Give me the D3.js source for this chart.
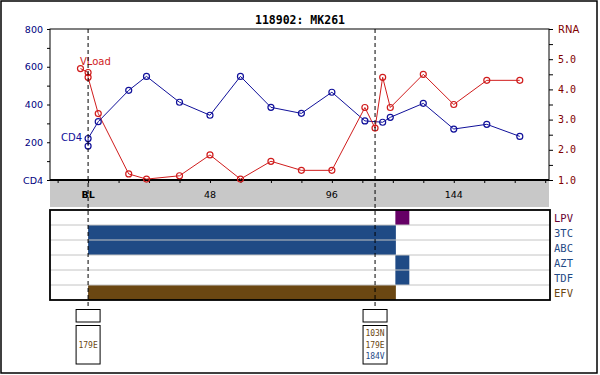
<!DOCTYPE html>
<html>
<head>
<meta charset="utf-8">
<script src="https://cdnjs.cloudflare.com/ajax/libs/d3/7.8.5/d3.min.js"></script>
<style>
  body { margin: 0; background: white; }
  svg { display: block; }
</style>
</head>
<body>
<script>
// title
var chartTitle = "118902: MK261";

// CD4 counts (weeks since baseline)
var cd4Weeks  = [0, 0, 4, 16, 23, 36, 48, 60, 72, 84, 96, 109, 116, 119, 132, 144, 157, 170];
var cd4Values = [180, 220, 309, 475, 549, 412, 343, 549, 385, 353, 465, 313, 306, 332, 406, 270, 295, 231];

// viral load, log10 copies
var vlWeeks  = [-3, 0, 0, 4, 16, 23, 36, 48, 60, 72, 84, 96, 109, 113, 116, 119, 132, 144, 157, 170];
var vlValues = [4.69, 4.56, 4.40, 3.20, 1.20, 1.03, 1.14, 1.83, 1.03, 1.62, 1.32, 1.32, 3.40, 2.72, 4.40, 3.40, 4.50, 3.50, 4.30, 4.30];

// axes
var weekTicks = [-12, 0, 12, 24, 36, 48, 60, 72, 84, 96, 108, 120, 132, 144, 156, 168, 180];
var weekLabels = [0, 48, 96, 144];
var cd4Ticks = [0, 100, 200, 300, 400, 500, 600, 700, 800];
var cd4Labels = [0, 200, 400, 600, 800];
var rnaTicks = [1, 1.5, 2, 2.5, 3, 3.5, 4, 4.5, 5, 5.5, 6];
var rnaLabels = [1, 2, 3, 4, 5, 6];

// drug regimens
var drugNames  = ["LPV", "3TC", "ABC", "AZT", "TDF", "EFV"];
var drugStart  = [121, 0, 0, 121, 121, 0];
var drugEnd    = [126.5, 121.2, 121.2, 126.5, 126.5, 121.2];
var drugColors = ["#660066", "#1f4a85", "#1f4a85", "#1f4a85", "#1f4a85", "#6b4712"];
var drugLabelColors = ["#660033", "#1f4a85", "#1f4a85", "#1f4a85", "#1f4a85", "#6b4712"];

// genotypes
var genoWeeks = [0, 113];
var genoMutations = [["179E"], ["103N", "179E", "184V"]];
var genoColors = [["#6b4712"], ["#6b4712", "#6b4712", "#1f4a85"]];

var W = 600, H = 375;
var plot = {left: 50, right: 549, top: 29, bottom: 180};

var svg = d3.select("body").append("svg")
    .attr("width", W).attr("height", H);

// outer frame
svg.append("rect")
    .attr("x", 1).attr("y", 1).attr("width", 596).attr("height", 372)
    .attr("fill", "white").attr("stroke", "black").attr("stroke-width", 1.5);

// scales
var x = d3.scaleLinear().domain([-15, 181.5]).range([plot.left, plot.right]);
var yCd4 = d3.scaleLinear().domain([0, 800]).range([plot.bottom, plot.top]);
var yRna = d3.scaleLinear().domain([1, 6]).range([plot.bottom, plot.top]);

// title
svg.append("text")
    .attr("x", 300).attr("y", 24)
    .attr("text-anchor", "middle")
    .attr("font-family", "DejaVu Sans Mono").attr("font-weight", "bold").attr("font-size", "11.5px")
    .text(chartTitle);

// gray band under plot
svg.append("rect")
    .attr("x", plot.left).attr("y", plot.bottom)
    .attr("width", plot.right - plot.left).attr("height", 27)
    .attr("fill", "#c8c8c8");

// plot frame
svg.append("rect")
    .attr("x", plot.left).attr("y", plot.top)
    .attr("width", plot.right - plot.left).attr("height", plot.bottom - plot.top)
    .attr("fill", "white").attr("stroke", "black").attr("stroke-width", 1);

// left axis
var leftAxis = svg.append("g")
    .attr("transform", "translate(" + plot.left + ",0)")
    .call(d3.axisLeft(yCd4).tickValues(cd4Ticks).tickSize(3).tickFormat(""));
leftAxis.select(".domain").remove();
svg.selectAll(".cd4lab")
    .data(cd4Labels).enter().append("text")
    .attr("class", "cd4lab")
    .attr("x", 43).attr("y", function(d) { return yCd4(d) + 3.5; })
    .attr("text-anchor", "end")
    .attr("font-family", "DejaVu Sans").attr("font-size", "9.5px").attr("fill", "#000080")
    .text(function(d) { return d == 0 ? "CD4" : d; });

// right axis
var rightAxis = svg.append("g")
    .attr("transform", "translate(" + plot.right + ",0)")
    .call(d3.axisRight(yRna).tickValues(rnaTicks).tickSize(4).tickFormat(""));
rightAxis.select(".domain").remove();
svg.selectAll(".rnalab")
    .data(rnaLabels).enter().append("text")
    .attr("class", "rnalab")
    .attr("x", 558).attr("y", function(d) { return yRna(d) + 3.5; })
    .attr("font-family", function(d) { return d == 6 ? "DejaVu Sans" : "DejaVu Sans Mono"; })
    .attr("font-size", "10px")
    .attr("fill", "#800000")
    .text(function(d) { return d == 6 ? "RNA" : d.toFixed(1); });

// bottom ticks
var bottomAxis = svg.append("g")
    .attr("transform", "translate(0," + plot.bottom + ")")
    .call(d3.axisBottom(x).tickValues(weekTicks).tickSize(3).tickFormat(""));
bottomAxis.select(".domain").remove();
svg.append("line")
    .attr("x1", plot.left).attr("x2", plot.right)
    .attr("y1", plot.bottom).attr("y2", plot.bottom)
    .attr("stroke", "black").attr("stroke-width", 2);

svg.selectAll(".weeklab")
    .data(weekLabels).enter().append("text")
    .attr("class", "weeklab")
    .attr("x", function(d) { return x(d); }).attr("y", 198)
    .attr("text-anchor", "middle")
    .attr("font-family", "DejaVu Sans").attr("font-size", "9.5px")
    .attr("font-weight", function(d) { return d == 0 ? "bold" : "normal"; })
    .text(function(d) { return d == 0 ? "BL" : d; });

// lines
var cd4Data = cd4Weeks.map(function(w, i) { return [w, cd4Values[i]]; });
var vlData = vlWeeks.map(function(w, i) { return [w, vlValues[i]]; });

var cd4Line = d3.line().x(function(d) { return x(d[0]); }).y(function(d) { return yCd4(d[1]); });
var vlLine = d3.line().x(function(d) { return x(d[0]); }).y(function(d) { return yRna(d[1]); });

svg.append("path").datum(cd4Data)
    .attr("d", cd4Line).attr("fill", "none").attr("stroke", "#10109a").attr("stroke-width", 1);
svg.append("path").datum(vlData)
    .attr("d", vlLine).attr("fill", "none").attr("stroke", "#d01c1c").attr("stroke-width", 1);

svg.selectAll(".cd4pt")
    .data(cd4Data).enter().append("circle")
    .attr("class", "cd4pt")
    .attr("cx", function(d) { return x(d[0]); })
    .attr("cy", function(d) { return yCd4(d[1]); })
    .attr("r", 3).attr("fill", "none").attr("stroke", "#10109a").attr("stroke-width", 1.2);
svg.selectAll(".vlpt")
    .data(vlData).enter().append("circle")
    .attr("class", "vlpt")
    .attr("cx", function(d) { return x(d[0]); })
    .attr("cy", function(d) { return yRna(d[1]); })
    .attr("r", 3).attr("fill", "none").attr("stroke", "#d01c1c").attr("stroke-width", 1.2);

// series labels
svg.append("text")
    .attr("x", 80).attr("y", 65)
    .attr("font-family", "DejaVu Sans").attr("font-size", "10px").attr("fill", "#d01c1c")
    .text("VLoad");
svg.append("text")
    .attr("x", 82).attr("y", 141)
    .attr("text-anchor", "end")
    .attr("font-family", "DejaVu Sans").attr("font-size", "10px").attr("fill", "#10109a")
    .text("CD4");

// drug panel
var panel = {top: 210, rowH: 15};
var drugs = drugNames.map(function(n, i) {
    return {name: n, start: drugStart[i], end: drugEnd[i], color: drugColors[i], label: drugLabelColors[i], row: i};
});

svg.append("rect")
    .attr("x", plot.left).attr("y", panel.top)
    .attr("width", plot.right - plot.left + 1).attr("height", panel.rowH * 6)
    .attr("fill", "white");

svg.selectAll(".drugbar")
    .data(drugs).enter().append("rect")
    .attr("class", "drugbar")
    .attr("x", function(d) { return x(d.start); })
    .attr("y", function(d) { return panel.top + d.row * panel.rowH; })
    .attr("width", function(d) { return x(d.end) - x(d.start); })
    .attr("height", panel.rowH)
    .attr("fill", function(d) { return d.color; });

svg.selectAll(".rowline")
    .data(d3.range(1, 6)).enter().append("line")
    .attr("class", "rowline")
    .attr("x1", plot.left).attr("x2", plot.right + 1)
    .attr("y1", function(d) { return panel.top + d * panel.rowH; })
    .attr("y2", function(d) { return panel.top + d * panel.rowH; })
    .attr("stroke", "#c4c4c4").attr("stroke-width", 1);

svg.append("rect")
    .attr("x", plot.left).attr("y", panel.top)
    .attr("width", plot.right - plot.left + 1).attr("height", panel.rowH * 6)
    .attr("fill", "none").attr("stroke", "black").attr("stroke-width", 1.8);

svg.selectAll(".druglab")
    .data(drugs).enter().append("text")
    .attr("class", "druglab")
    .attr("x", 554)
    .attr("y", function(d) { return panel.top + d.row * panel.rowH + 11.5; })
    .attr("font-family", "DejaVu Sans Mono").attr("font-size", "10.5px")
    .attr("fill", function(d) { return d.label; })
    .text(function(d) { return d.name; });

// genotype markers: dashed lines and boxes
svg.selectAll(".genoline")
    .data(genoWeeks).enter().append("line")
    .attr("class", "genoline")
    .attr("x1", function(d) { return x(d); }).attr("x2", function(d) { return x(d); })
    .attr("y1", plot.top).attr("y2", 309)
    .attr("stroke", "black").attr("stroke-width", 1).attr("stroke-dasharray", "4,3");

genoWeeks.forEach(function(w, i) {
    var cx = x(w);
    svg.append("rect")
        .attr("x", cx - 12).attr("y", 309.5).attr("width", 24).attr("height", 12.5)
        .attr("fill", "white").attr("stroke", "black").attr("stroke-width", 1);
    svg.append("rect")
        .attr("x", cx - 12).attr("y", 325.5).attr("width", 24).attr("height", 38.5)
        .attr("fill", "white").attr("stroke", "black").attr("stroke-width", 1);
    var muts = genoMutations[i];
    muts.forEach(function(m, j) {
        var yy = muts.length == 1 ? 348 : 336 + j * 11.7;
        svg.append("text")
            .attr("x", cx).attr("y", yy)
            .attr("text-anchor", "middle")
            .attr("font-family", "DejaVu Sans Mono").attr("font-size", "8px")
            .attr("fill", genoColors[i][j])
            .text(m);
    });
});
</script>
</body>
</html>
